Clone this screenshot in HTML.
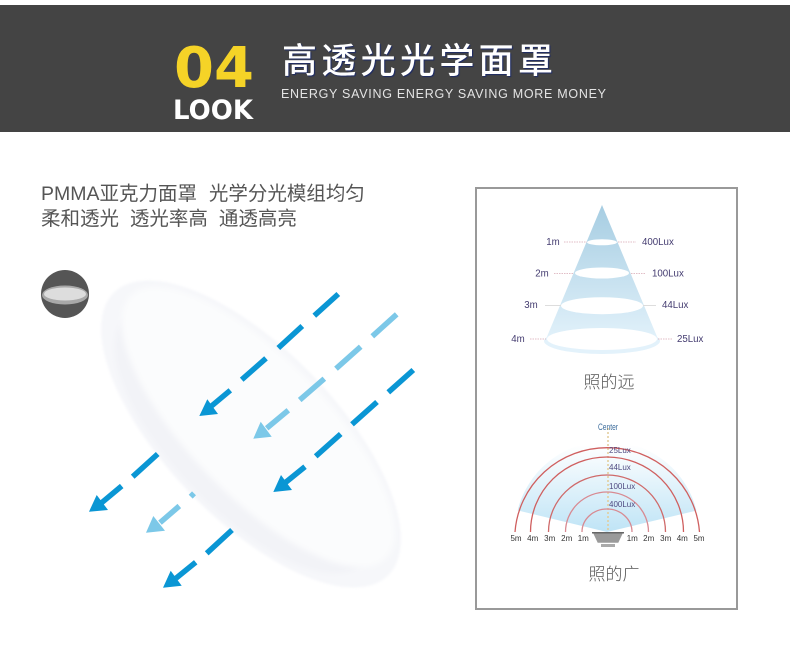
<!DOCTYPE html>
<html><head><meta charset="utf-8"><style>
html,body{margin:0;padding:0;background:#fff;width:790px;height:659px;overflow:hidden}
svg{display:block}
text{font-family:"Liberation Sans","Noto Sans CJK SC",sans-serif}
</style></head><body>
<svg xmlns="http://www.w3.org/2000/svg" width="790" height="659" viewBox="0 0 790 659">
<defs>
<linearGradient id="cone" x1="0" y1="205" x2="0" y2="350" gradientUnits="userSpaceOnUse"><stop offset="0" stop-color="#a6cde2"/><stop offset="1" stop-color="#e6f4fc"/></linearGradient>
<linearGradient id="fan" x1="0" y1="445" x2="0" y2="532" gradientUnits="userSpaceOnUse"><stop offset="0" stop-color="#ffffff"/><stop offset="1" stop-color="#bfe4f6"/></linearGradient>
<filter id="b1"><feGaussianBlur stdDeviation="1.2"/></filter>
<filter id="b3"><feGaussianBlur stdDeviation="3"/></filter>
<clipPath id="fanclip"><path d="M607 532L516 510L516 430L699 430L699 510Z"/></clipPath>
</defs>
<rect x="0" y="5" width="790" height="127" fill="#444444"/>
<text x="174" y="87" font-size="56" font-weight="700" fill="#f5d327" textLength="80" lengthAdjust="spacingAndGlyphs" style="font-family:'DejaVu Sans',sans-serif">04</text>
<text x="173" y="119" font-size="27" font-weight="700" fill="#ffffff" textLength="80" lengthAdjust="spacingAndGlyphs" style="font-family:'DejaVu Sans',sans-serif">LOOK</text>
<text x="282" y="73" font-size="35" font-weight="500" fill="#ffffff" textLength="271" style="text-shadow:1px 1px 1px #1c2a66">高透光光学面罩</text>
<text x="281" y="98" font-size="12.500" fill="#e4e4e4" textLength="325">ENERGY SAVING ENERGY SAVING MORE MONEY</text>
<text x="41" y="200" font-size="19.500" fill="#555555" word-spacing="6.500">PMMA亚克力面罩 光学分光模组均匀</text>
<text x="41" y="225" font-size="19.500" fill="#555555" word-spacing="5.500">柔和透光 透光率高 通透高亮</text>

<circle cx="65" cy="294" r="24" fill="#555555"/>
<ellipse cx="65" cy="295" rx="23" ry="9.500" fill="#a8a8a8"/>
<ellipse cx="65" cy="294" rx="21" ry="6.500" fill="#dddddd"/>

<g transform="rotate(46 251 434)">
<ellipse cx="251" cy="434" rx="197" ry="85" fill="#f6f7fa" filter="url(#b1)"/>
<ellipse cx="251" cy="446" rx="170" ry="68" fill="#f2f3f7" filter="url(#b3)"/>
<ellipse cx="251" cy="424" rx="183" ry="69" fill="#fbfcfd" filter="url(#b3)"/>
</g>

<g fill="none" stroke-width="5.500" stroke="#0a96d4">
<path d="M338.300 294L314.300 315.700M302.300 326L278.300 348M266 358.300L241.700 379.700M230.300 390.300L210.700 406.700"/>
<path d="M413.300 370L388.300 392.300M377 402L352 424.300M340.700 434L315.700 456.300M305 466.700L285.700 482.300"/>
<path d="M157.700 454L132.700 476.700M121.700 486L101.700 502.700"/>
<path d="M232 530L206.700 553.300M195.700 562.300L176 578.300"/>
</g>
<g fill="none" stroke-width="5.500" stroke="#7cc8e8">
<path d="M396.700 314.300L372.300 336.300M360.700 346.700L336 368.700M324.300 378.700L299.700 400M288.300 410.300L266.700 428.300"/>
<path d="M194 493.300L190.700 496.700M179.300 506L160 522.700"/>
</g>
<g fill="#0a96d4">
<path d="M199.300 416L207.300 399.300L218 414Z"/>
<path d="M273.300 492L281 475L292 490Z"/>
<path d="M89 511.700L96.700 495L108 510Z"/>
<path d="M163 587.700L170.700 570.700L181.700 585.700Z"/>
</g>
<g fill="#7cc8e8">
<path d="M253.300 438.700L260.700 421.700L271.700 436.700Z"/>
<path d="M146 532.700L153.300 516L165 530.700Z"/>
</g>

<rect x="476" y="188" width="261" height="421" fill="#ffffff" stroke="#999999" stroke-width="2"/>

<path d="M602 205L546 339L658 339Z" fill="url(#cone)"/>
<ellipse cx="602" cy="341" rx="58" ry="13" fill="#e3f2fb"/>
<ellipse cx="602" cy="242.300" rx="15" ry="3" fill="#fff"/>
<ellipse cx="602" cy="273" rx="27" ry="5.500" fill="#fff"/>
<ellipse cx="602" cy="305.700" rx="41" ry="8.500" fill="#fff"/>
<ellipse cx="602" cy="339" rx="55" ry="11" fill="#fff"/>
<g stroke="#d8a8b4" stroke-width="0.800" stroke-dasharray="1.500 1">
<path d="M564 242H587M618 242H636M554 273.500H574M631 273.500H646M530 339H546M658 339H672"/>
</g>
<path d="M545 305.500H561M643 305.500H656" stroke="#dddddd"/>
<g font-size="9.700" fill="#443c70">
<text x="553" y="245" text-anchor="middle">1m</text>
<text x="642" y="245">400Lux</text>
<text x="542" y="276.500" text-anchor="middle">2m</text>
<text x="652" y="276.500">100Lux</text>
<text x="531" y="308" text-anchor="middle">3m</text>
<text x="662" y="308">44Lux</text>
<text x="518" y="342" text-anchor="middle">4m</text>
<text x="677" y="342">25Lux</text>
</g>
<text x="609" y="388" font-size="17" font-weight="300" fill="#555555" text-anchor="middle">照的远</text>

<g clip-path="url(#fanclip)"><ellipse cx="607" cy="532" rx="92" ry="91" fill="url(#fan)"/></g>
<path d="M608 428V532" stroke="#e2cc98" stroke-width="1.500" stroke-dasharray="2 2"/>
<g fill="none" stroke-width="1.300">
<path d="M515 532A92.500 91 0 0 1 699.500 532" stroke="#cf5f5f"/>
<path d="M530.500 532A76.500 75 0 0 1 683.500 532" stroke="#cf5f5f"/>
<path d="M548.500 532A58.500 57 0 0 1 665.500 532" stroke="#cf6a6a"/>
<path d="M565.500 532A41.500 40 0 0 1 648.500 532" stroke="#d88a92"/>
<path d="M582 532A25 23 0 0 1 632 532" stroke="#d88a92"/>
</g>
<path d="M593 532.700H623L618.300 542.700H597.700Z" fill="#9a9a9a"/>
<rect x="592" y="532" width="32" height="1.500" fill="#666"/>
<rect x="601" y="544" width="14" height="3" fill="#aaaaaa"/>
<text x="608" y="430" font-size="9" fill="#3c6c9c" text-anchor="middle" textLength="20" lengthAdjust="spacingAndGlyphs">Center</text>
<g font-size="8" fill="#4f4a80">
<text x="609" y="453">25Lux</text>
<text x="609" y="470">44Lux</text>
<text x="609" y="489">100Lux</text>
<text x="609" y="507">400Lux</text>
</g>
<g font-size="8" fill="#333333" text-anchor="middle">
<text x="516" y="541">5m</text><text x="532.700" y="541">4m</text><text x="549.700" y="541">3m</text><text x="566.700" y="541">2m</text><text x="583.300" y="541">1m</text>
<text x="632.300" y="541">1m</text><text x="648.700" y="541">2m</text><text x="665.700" y="541">3m</text><text x="682.300" y="541">4m</text><text x="699" y="541">5m</text>
</g>
<text x="614" y="580" font-size="17" font-weight="300" fill="#555555" text-anchor="middle">照的广</text>
</svg>
</body></html>
